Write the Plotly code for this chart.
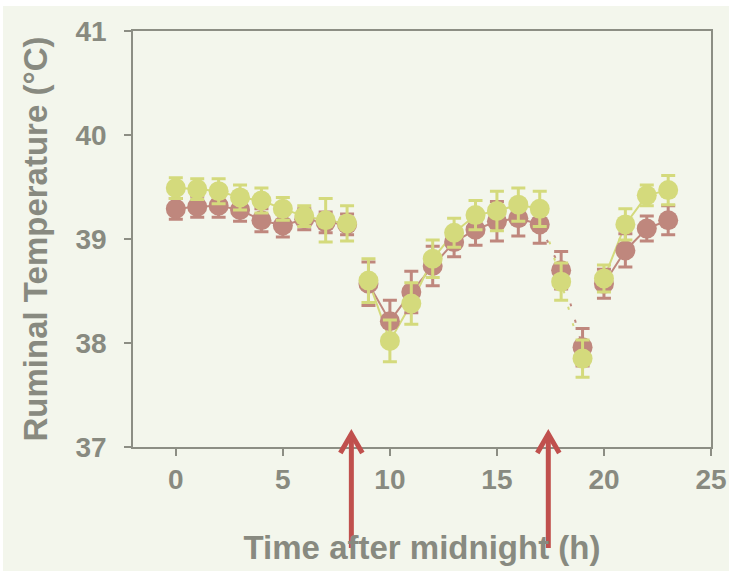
import plotly.graph_objects as go

hours = list(range(24))
red = [39.29, 39.31, 39.32, 39.28, 39.18, 39.13, 39.19, 39.16, 39.14, 38.57, 38.21, 38.49,
       38.74, 38.97, 39.09, 39.17, 39.20, 39.14, 38.70, 37.96, 38.57, 38.89, 39.10, 39.18]
red_err = [0.10, 0.10, 0.11, 0.11, 0.11, 0.11, 0.10, 0.10, 0.10, 0.21, 0.20, 0.20,
           0.19, 0.14, 0.15, 0.19, 0.17, 0.18, 0.18, 0.18, 0.14, 0.16, 0.12, 0.14]
yellow = [39.49, 39.48, 39.46, 39.40, 39.37, 39.29, 39.22, 39.18, 39.15, 38.60, 38.02, 38.38,
          38.81, 39.06, 39.23, 39.27, 39.33, 39.29, 38.59, 37.85, 38.62, 39.14, 39.42, 39.47]
yellow_err = [0.10, 0.10, 0.12, 0.12, 0.12, 0.11, 0.10, 0.21, 0.17, 0.21, 0.20, 0.20,
              0.18, 0.14, 0.14, 0.19, 0.16, 0.17, 0.18, 0.18, 0.13, 0.15, 0.10, 0.14]
solid_segments = [(0, 8), (9, 17), (20, 23)]
dotted_segments = [(17, 19)]
arrow_times = [8.2, 17.4]
x_ticks = [0, 5, 10, 15, 20, 25]
y_ticks = [37, 38, 39, 40, 41]

XR = [-2, 25]
YR = [37, 41]
RED = "#BF877D"
YEL = "#D4DA7C"
TXT = "#888A80"
BG = "#F3F6EC"
ARROW = "#C0504D"


def segs(vals, segments):
    xs, ys = [], []
    for a, b in segments:
        xs += hours[a:b + 1] + [None]
        ys += vals[a:b + 1] + [None]
    return xs, ys


fig = go.Figure()
for vals, col in [(red, RED), (yellow, YEL)]:
    xs, ys = segs(vals, solid_segments)
    fig.add_trace(go.Scatter(x=xs, y=ys, mode="lines", line=dict(color=col, width=2),
                             hoverinfo="skip", showlegend=False))
    xs, ys = segs(vals, dotted_segments)
    fig.add_trace(go.Scatter(x=xs, y=ys, mode="lines",
                             line=dict(color=col, width=2, dash="3px,14px"),
                             hoverinfo="skip", showlegend=False))

for vals, err, col in [(red, red_err, RED), (yellow, yellow_err, YEL)]:
    fig.add_trace(go.Scatter(
        x=hours, y=vals, mode="markers",
        marker=dict(size=20, color=col),
        error_y=dict(type="data", array=err, color=col, thickness=3, width=7),
        showlegend=False))


def xp(x):
    return (x - XR[0]) / (XR[1] - XR[0])


def yp(y):
    return (y - YR[0]) / (YR[1] - YR[0])


PLOT_W = 578
PLOT_H = 416
shapes = [dict(type="rect", xref="paper", yref="paper",
               x0=-130 / PLOT_W, x1=1 + 30 / PLOT_W, y0=-130 / PLOT_H, y1=1 + 25 / PLOT_H,
               fillcolor=BG, line=dict(width=0), layer="below")]
for t in arrow_times:
    tipx = xp(t)
    tipy = yp(37.125)
    boty = tipy - 114 / PLOT_H
    shapes.append(dict(type="line", xref="paper", yref="paper",
                       x0=tipx, x1=tipx, y0=boty, y1=tipy - 2 / PLOT_H,
                       line=dict(color=ARROW, width=5)))
    dx = 11 / PLOT_W
    dy = 19 / PLOT_H
    shapes.append(dict(type="path", xref="paper", yref="paper",
                       path=f"M {tipx - dx} {tipy - dy} L {tipx} {tipy} L {tipx + dx} {tipy - dy}",
                       line=dict(color=ARROW, width=5)))

font_family = "Liberation Sans, Arial, sans-serif"
fig.update_layout(
    width=729, height=571,
    margin=dict(l=133, r=18, t=31, b=124),
    paper_bgcolor="white", plot_bgcolor=BG,
    shapes=shapes,
    font=dict(family=font_family, color=TXT),
    xaxis=dict(range=XR, tickvals=x_ticks, ticks="outside", ticklen=7, tickwidth=1.5,
               tickcolor="#8C8E84", showline=True, linecolor="#8C8E84", linewidth=1.5,
               mirror=True, showgrid=False, zeroline=False, automargin=False,
               tickfont=dict(size=28, color=TXT, family=font_family, weight="bold"),
               ticklabelstandoff=0,
               title=dict(text="<b>Time after midnight (h)</b>", standoff=42,
                          font=dict(size=33, color=TXT, family=font_family))),
    yaxis=dict(range=YR, tickvals=y_ticks, ticks="outside", ticklen=7, tickwidth=1.5,
               tickcolor="#8C8E84", showline=True, linecolor="#8C8E84", linewidth=1.5,
               mirror=True, showgrid=False, zeroline=False, automargin=False,
               tickfont=dict(size=28, color=TXT, family=font_family, weight="bold"),
               ticklabelstandoff=12,
               title=dict(text="<b>Ruminal Temperature (°C)</b>", standoff=18,
                          font=dict(size=33, color=TXT, family=font_family))),
)

fig.write_html("out.html", config={"displayModeBar": False},
               post_script="document.body.style.margin='0px';document.body.style.padding='0px';")
